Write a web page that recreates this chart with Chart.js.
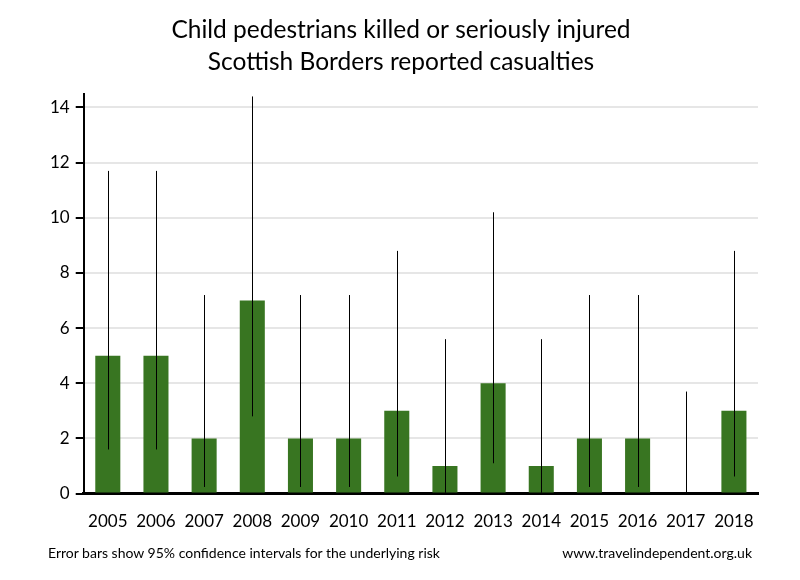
<!DOCTYPE html>
<html lang="en">
<head>
    <meta charset="UTF-8">
    <title>Child pedestrians KSI - Scottish Borders</title>
    <script src="https://cdn.jsdelivr.net/npm/chart.js"></script>
    <style>
        body {
            margin: 0;
            font-family: Lato, "Open Sans", sans-serif;
            background: #fff;
        }
        #wrap {
            position: relative;
            width: 800px;
            height: 580px;
        }
        .note {
            position: absolute;
            top: 544px;
            font-size: 14px;
            color: #000;
        }
        #noteLeft { left: 48px; }
        #noteRight { right: 48px; }
    </style>
</head>
<body>
    <div id="wrap">
        <canvas id="ksiChart" width="800" height="580"></canvas>
        <div class="note" id="noteLeft">Error bars show 95% confidence intervals for the underlying risk</div>
        <div class="note" id="noteRight">www.travelindependent.org.uk</div>
    </div>

    <script>
        const years = ['2005', '2006', '2007', '2008', '2009', '2010', '2011', '2012', '2013', '2014', '2015', '2016', '2017', '2018'];
        const casualties = [5, 5, 2, 7, 2, 2, 3, 1, 4, 1, 2, 2, 0, 3];
        const ciLower = [1.6, 1.6, 0.24, 2.8, 0.24, 0.24, 0.62, 0.03, 1.1, 0.03, 0.24, 0.24, 0, 0.62];
        const ciUpper = [11.7, 11.7, 7.2, 14.4, 7.2, 7.2, 8.8, 5.6, 10.2, 5.6, 7.2, 7.2, 3.7, 8.8];

        // draws the confidence interval lines over the bars
        const errorBars = {
            id: 'errorBars',
            afterDatasetsDraw(chart) {
                const ctx = chart.ctx;
                const x = chart.scales.x;
                const y = chart.scales.y;
                ctx.save();
                ctx.strokeStyle = '#000';
                ctx.lineWidth = 1;
                years.forEach((yr, i) => {
                    const px = Math.round(x.getPixelForValue(i)) + 0.5;
                    ctx.beginPath();
                    ctx.moveTo(px, y.getPixelForValue(ciLower[i]));
                    ctx.lineTo(px, y.getPixelForValue(ciUpper[i]));
                    ctx.stroke();
                });
                ctx.restore();
            }
        };

        new Chart(document.getElementById('ksiChart'), {
            type: 'bar',
            data: {
                labels: years,
                datasets: [{
                    label: 'Casualties',
                    data: casualties,
                    backgroundColor: '#387521',
                    barPercentage: 0.52,
                    categoryPercentage: 1
                }]
            },
            options: {
                responsive: false,
                animation: false,
                layout: {
                    padding: { left: 44, right: 42, top: 14, bottom: 38 }
                },
                plugins: {
                    legend: { display: false },
                    tooltip: { enabled: false },
                    title: {
                        display: true,
                        text: ['Child pedestrians killed or seriously injured', 'Scottish Borders reported casualties'],
                        color: '#000',
                        font: { family: 'Lato', size: 24.5, weight: 'normal', lineHeight: 1.32 },
                        padding: { top: 0, bottom: 15 }
                    }
                },
                scales: {
                    x: {
                        grid: { display: false },
                        border: { display: true, color: '#000', width: 3 },
                        ticks: {
                            color: '#000',
                            font: { family: 'Lato', size: 17 },
                            padding: 10,
                            maxRotation: 0
                        }
                    },
                    y: {
                        min: 0,
                        max: 14.5,
                        grid: {
                            color: '#e6e6e6',
                            lineWidth: 2,
                            tickColor: '#000',
                            tickLength: 8
                        },
                        border: { display: true, color: '#000', width: 2 },
                        ticks: {
                            stepSize: 2,
                            includeBounds: false,
                            color: '#000',
                            font: { family: 'Lato', size: 17 },
                            padding: 6
                        }
                    }
                }
            },
            plugins: [errorBars]
        });
    </script>
</body>
</html>
